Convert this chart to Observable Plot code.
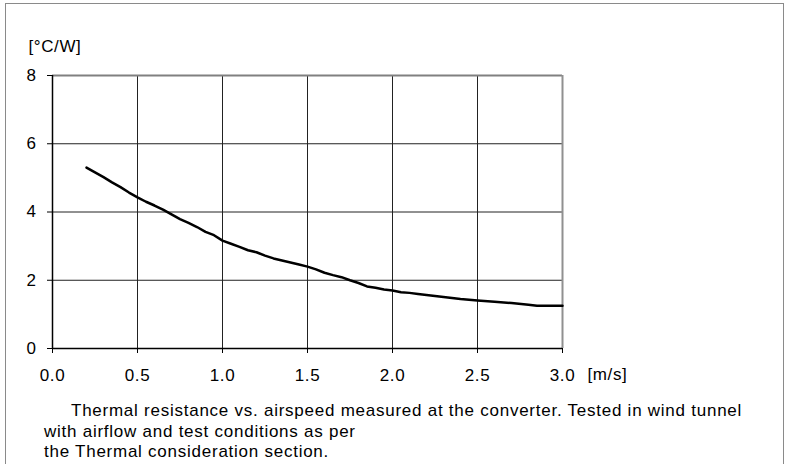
<!DOCTYPE html>
<html>
<head>
<meta charset="utf-8">
<script src="https://cdn.jsdelivr.net/npm/d3@7"></script>
<script src="https://cdn.jsdelivr.net/npm/@observablehq/plot@0.6"></script>
<style>
  html, body { margin: 0; padding: 0; background: #fff; }
  body { width: 787px; height: 464px; position: relative; overflow: hidden; font-family: "Liberation Sans", Arial, sans-serif; }
  #frame { position: absolute; left: 5px; top: 3px; width: 777px; height: 480px; border: 1px solid #8a8a8a; box-sizing: content-box; }
  #chart { position: absolute; left: 0; top: 0; }
  #caption { position: absolute; left: 44px; top: 401px; font-size: 17px; line-height: 20.5px; color: #000; letter-spacing: 0.75px; white-space: nowrap; }
  #caption div:first-child { text-indent: 27px; }
</style>
</head>
<body>
<div id="frame"></div>
<div id="chart"></div>
<div id="caption"></div>
<script>
// Airspeed [m/s]
const airspeed = [0.2, 0.25, 0.3, 0.35, 0.4, 0.45, 0.5, 0.55, 0.6, 0.65, 0.7, 0.75, 0.8, 0.85, 0.9, 0.95,
  1.0, 1.05, 1.1, 1.15, 1.2, 1.25, 1.3, 1.35, 1.4, 1.45, 1.5, 1.55, 1.6, 1.65, 1.7, 1.75, 1.8, 1.85, 1.9, 1.95,
  2.0, 2.05, 2.1, 2.15, 2.2, 2.25, 2.3, 2.35, 2.4, 2.45, 2.5, 2.6, 2.7, 2.8, 2.85, 2.9, 3.0];
// Thermal resistance [°C/W]
const resistance = [5.30, 5.16, 5.02, 4.87, 4.73, 4.57, 4.43, 4.30, 4.19, 4.07, 3.93, 3.79, 3.68, 3.56, 3.42, 3.32,
  3.16, 3.07, 2.98, 2.88, 2.82, 2.72, 2.64, 2.58, 2.52, 2.46, 2.40, 2.32, 2.22, 2.15, 2.09, 2.00, 1.92, 1.82, 1.78, 1.73,
  1.70, 1.65, 1.63, 1.60, 1.57, 1.54, 1.51, 1.48, 1.45, 1.43, 1.41, 1.37, 1.33, 1.28, 1.25, 1.25, 1.25];
const xTicks = [0, 0.5, 1.0, 1.5, 2.0, 2.5, 3.0];
const yTicks = [0, 2, 4, 6, 8];
const yUnit = "[°C/W]";
const xUnit = "[m/s]";
const captionLines = [
  "Thermal resistance vs. airspeed measured at the converter. Tested in wind tunnel",
  "with airflow and test conditions as per",
  "the Thermal consideration section."
];

const data = airspeed.map((x, i) => ({x, y: resistance[i]}));
const font = "'Liberation Sans', Arial, sans-serif";

const chart = Plot.plot({
  width: 787,
  height: 390,
  marginLeft: 52,
  marginRight: 225,
  marginTop: 75,
  marginBottom: 42,
  style: {fontFamily: font, fontSize: "17px", letterSpacing: "0.6px", color: "#000", background: "transparent", overflow: "visible"},
  x: {domain: [0, 3]},
  y: {domain: [0, 8]},
  marks: [
    Plot.gridX(xTicks.slice(1, -1), {stroke: "#222", strokeOpacity: 1, strokeWidth: 1}),
    Plot.gridY(yTicks.slice(1, -1), {stroke: "#222", strokeOpacity: 1, strokeWidth: 1}),
    Plot.ruleY([8], {stroke: "#808080", strokeWidth: 2}),
    Plot.ruleX([3], {stroke: "#909090", strokeWidth: 2}),
    Plot.ruleX([0], {stroke: "#000", strokeWidth: 1.5}),
    Plot.ruleY([0], {stroke: "#000", strokeWidth: 1.5}),
    Plot.axisX(xTicks, {tickSize: 5, tickPadding: 15, tickFormat: d => d.toFixed(1), label: null, fontSize: 17, stroke: "#000"}),
    Plot.axisY(yTicks, {tickSize: 5, tickPadding: 11, label: null, fontSize: 17, stroke: "#000"}),
    Plot.line(data, {x: "x", y: "y", stroke: "#000", strokeWidth: 2.5}),
    Plot.text([yUnit], {frameAnchor: "top-left", textAnchor: "start", lineAnchor: "middle", dx: -24, dy: -29, fontSize: 17, fill: "#000"}),
    Plot.text([xUnit], {frameAnchor: "bottom-right", textAnchor: "start", lineAnchor: "middle", dx: 25, dy: 26, fontSize: 17, fill: "#000"})
  ]
});
document.getElementById("chart").appendChild(chart);
const cap = document.getElementById("caption");
for (const line of captionLines) {
  const d = document.createElement("div");
  d.textContent = line;
  cap.appendChild(d);
}
</script>
</body>
</html>
